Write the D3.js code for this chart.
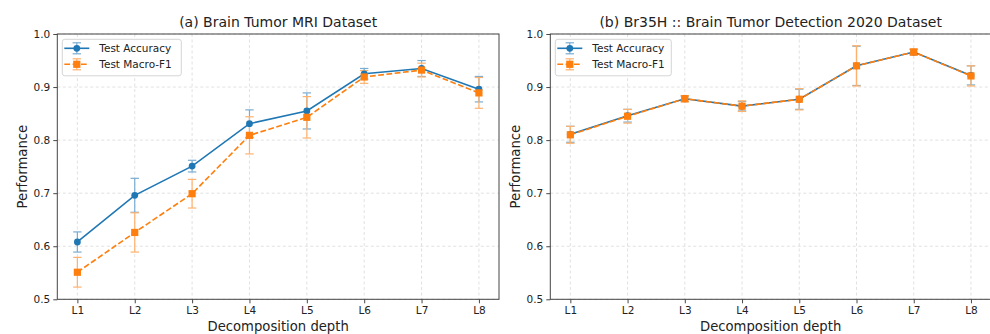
<!DOCTYPE html>
<html>
<head>
<meta charset="utf-8">
<script src="https://cdn.jsdelivr.net/npm/d3@7"></script>
<style>
  body { margin: 0; background: #fff; }
  svg { font-family: "DejaVu Sans", sans-serif; }
</style>
</head>
<body>
<svg id="chart"></svg>
<script>
const depths = ["L1", "L2", "L3", "L4", "L5", "L6", "L7", "L8"];
const yTicks = [0.5, 0.6, 0.7, 0.8, 0.9, 1.0];

// (a) Brain Tumor MRI
const mriAcc    = [0.608, 0.696, 0.751, 0.831, 0.855, 0.925, 0.935, 0.896];
const mriAccStd = [0.019, 0.032, 0.011, 0.026, 0.034, 0.010, 0.015, 0.024];
const mriF1     = [0.551, 0.626, 0.699, 0.809, 0.843, 0.919, 0.932, 0.889];
const mriF1Std  = [0.028, 0.037, 0.027, 0.035, 0.039, 0.012, 0.013, 0.029];

// (b) Br35H
const br35Acc    = [0.811, 0.846, 0.878, 0.864, 0.877, 0.940, 0.966, 0.922];
const br35AccStd = [0.015, 0.012, 0.005, 0.009, 0.019, 0.037, 0.005, 0.018];
const br35F1     = [0.810, 0.845, 0.878, 0.864, 0.877, 0.940, 0.966, 0.921];
const br35F1Std  = [0.016, 0.013, 0.006, 0.010, 0.020, 0.038, 0.006, 0.019];

const width = 990, height = 334;
const blue = "#1f77b4", orange = "#ff7f0e";
const blueLight = "#79add2", orangeLight = "#ffb26e";
const plotTop = 34, plotBottom = 299.3;

const svg = d3.select("#chart").attr("width", width).attr("height", height);

const panels = [
  { title: "(a) Brain Tumor MRI Dataset", left: 57.3, right: 499,
    series: [
      { name: "Test Accuracy", vals: mriAcc, std: mriAccStd, color: blue, err: blueLight, dash: null, marker: "circle" },
      { name: "Test Macro-F1", vals: mriF1, std: mriF1Std, color: orange, err: orangeLight, dash: "5.8,2.5", marker: "square" }
    ] },
  { title: "(b) Br35H :: Brain Tumor Detection 2020 Dataset", left: 550.3, right: 991,
    series: [
      { name: "Test Accuracy", vals: br35Acc, std: br35AccStd, color: blue, err: blueLight, dash: null, marker: "circle" },
      { name: "Test Macro-F1", vals: br35F1, std: br35F1Std, color: orange, err: orangeLight, dash: "5.8,2.5", marker: "square" }
    ] }
];

panels.forEach(p => drawPanel(p));

function drawPanel(p) {
  const x = d3.scalePoint().domain(depths).range([p.left, p.right]).padding(0.35);
  const y = d3.scaleLinear().domain([0.5, 1.0]).range([plotBottom, plotTop]);
  const g = svg.append("g");

  // grid
  g.append("g").selectAll("line").data(depths).join("line")
    .attr("x1", d => x(d)).attr("x2", d => x(d))
    .attr("y1", plotTop).attr("y2", plotBottom)
    .attr("stroke", "#d9d9d9").attr("stroke-width", 0.8).attr("stroke-dasharray", "3,2.5");
  g.append("g").selectAll("line").data(yTicks).join("line")
    .attr("x1", p.left).attr("x2", p.right)
    .attr("y1", d => y(d)).attr("y2", d => y(d))
    .attr("stroke", "#d9d9d9").attr("stroke-width", 0.8).attr("stroke-dasharray", "3,2.5");

  // axes
  const xAxis = g.append("g").attr("transform", `translate(0,${plotBottom})`)
    .call(d3.axisBottom(x).tickSize(4).tickPadding(3));
  const yAxis = g.append("g").attr("transform", `translate(${p.left},0)`)
    .call(d3.axisLeft(y).tickValues(yTicks).tickFormat(d3.format(".1f")).tickSize(4).tickPadding(3));
  [xAxis, yAxis].forEach(a => {
    a.select(".domain").remove();
    a.selectAll("line").attr("stroke", "#333").attr("stroke-width", 0.9);
    a.selectAll("text").attr("fill", "#222").attr("font-size", 10.5).attr("font-family", "DejaVu Sans");
  });

  // frame
  g.append("rect").attr("x", p.left).attr("y", plotTop)
    .attr("width", p.right - p.left).attr("height", plotBottom - plotTop)
    .attr("fill", "none").attr("stroke", "#444").attr("stroke-width", 1);

  // error bars (under all lines)
  p.series.forEach(s => {
    const eb = g.append("g").attr("stroke", s.err).attr("stroke-width", 1.2);
    depths.forEach((d, i) => {
      const cx = x(d), y0 = y(s.vals[i] - s.std[i]), y1 = y(s.vals[i] + s.std[i]);
      eb.append("line").attr("x1", cx).attr("x2", cx).attr("y1", y0).attr("y2", y1);
      eb.append("line").attr("x1", cx - 4.2).attr("x2", cx + 4.2).attr("y1", y0).attr("y2", y0);
      eb.append("line").attr("x1", cx - 4.2).attr("x2", cx + 4.2).attr("y1", y1).attr("y2", y1);
    });
  });

  // lines + markers
  p.series.forEach(s => {
    const line = d3.line().x((v, i) => x(depths[i])).y(v => y(v));
    g.append("path").datum(s.vals).attr("d", line)
      .attr("fill", "none").attr("stroke", s.color).attr("stroke-width", 1.6)
      .attr("stroke-dasharray", s.dash);
    drawMarkers(g, s, s.vals.map((v, i) => [x(depths[i]), y(v)]));
  });

  // title + labels
  svg.append("text").attr("x", (p.left + p.right) / 2).attr("y", 27)
    .attr("text-anchor", "middle").attr("font-size", 14).attr("fill", "#222").text(p.title);
  svg.append("text").attr("x", (p.left + p.right) / 2).attr("y", 331)
    .attr("text-anchor", "middle").attr("font-size", 13.2).attr("fill", "#222").text("Decomposition depth");
  svg.append("text").attr("transform", `translate(${p.left - 30},${(plotTop + plotBottom) / 2}) rotate(-90)`)
    .attr("text-anchor", "middle").attr("font-size", 13.2).attr("fill", "#222").text("Performance");

  drawLegend(p.left + 5, 39.3, p.series, p.left < 100 ? 119 : 116);
}

function drawMarkers(g, s, pts) {
  if (s.marker === "circle") {
    g.append("g").selectAll("circle").data(pts).join("circle")
      .attr("cx", d => d[0]).attr("cy", d => d[1]).attr("r", 3.4).attr("fill", s.color);
  } else {
    g.append("g").selectAll("rect").data(pts).join("rect")
      .attr("x", d => d[0] - 3.6).attr("y", d => d[1] - 3.6)
      .attr("width", 7.2).attr("height", 7.2).attr("fill", s.color);
  }
}

function drawLegend(lx, ly, series, w) {
  const lg = svg.append("g").attr("transform", `translate(${lx},${ly})`);
  lg.append("rect").attr("width", w).attr("height", 36.5).attr("rx", 2.5)
    .attr("fill", "#fff").attr("fill-opacity", 0.85).attr("stroke", "#d0d0d0").attr("stroke-width", 0.9);
  series.forEach((s, i) => {
    const ry = 9 + i * 16, mx = 14.5;
    const row = lg.append("g");
    row.append("line").attr("x1", mx).attr("x2", mx).attr("y1", ry - 5.5).attr("y2", ry + 5.5)
      .attr("stroke", s.err).attr("stroke-width", 1.2);
    [ry - 5.5, ry + 5.5].forEach(cy => row.append("line")
      .attr("x1", mx - 4.2).attr("x2", mx + 4.2).attr("y1", cy).attr("y2", cy)
      .attr("stroke", s.err).attr("stroke-width", 1.2));
    row.append("line").attr("x1", 2).attr("x2", 27).attr("y1", ry).attr("y2", ry)
      .attr("stroke", s.color).attr("stroke-width", 1.6).attr("stroke-dasharray", s.dash);
    drawMarkers(row, s, [[mx, ry]]);
    row.append("text").attr("x", 37).attr("y", ry + 3.8).attr("font-size", 10.5)
      .attr("fill", "#222").text(s.name);
  });
}
</script>
</body>
</html>
